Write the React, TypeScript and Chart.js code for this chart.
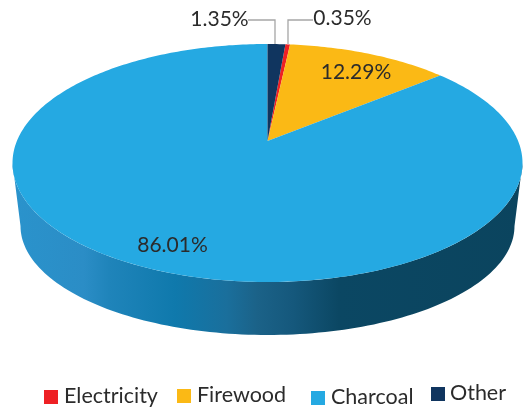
import React, { useEffect, useRef } from "react";
import { Chart, registerables } from "chart.js";

Chart.register(...registerables);

const categories = ["Electricity", "Firewood", "Charcoal", "Other"];
const shares = [0.35, 12.29, 86.01, 1.35];
const colors = ["#ee2024", "#fbb915", "#25a9e2", "#10355f"];

const FONT = "Lato, sans-serif";
const TEXT = "#2b2b2b";

const top = { cx: 267.5, cy: 163, rx: 255, ry: 119, apex: -0.185 };
const bottom = { cx: 267.5, cy: 226, rx: 247, ry: 109 };

const project = (a: number) => {
  const u = Math.cos(a);
  const v = Math.sin(a);
  const c = top.apex;
  const d = 1 + c * v;
  return {
    x: top.cx + (top.rx * u * Math.sqrt(1 - c * c)) / d,
    y: top.cy + (top.ry * (v + c)) / d,
  };
};

const pie3d = {
  id: "pie3d",
  beforeDatasetsDraw(chart: any) {
    const { ctx } = chart;
    ctx.save();
    // side wall
    const g = ctx.createLinearGradient(top.cx - top.rx, 0, top.cx + top.rx, 0);
    [
      [0, "#2a93cc"],
      [0.14, "#2b8dc6"],
      [0.19, "#1f84ba"],
      [0.32, "#0f79ac"],
      [0.42, "#1a6f9c"],
      [0.48, "#1b6288"],
      [0.55, "#15587c"],
      [0.64, "#0b4763"],
      [1, "#0b445e"],
    ].forEach(([o, c]) => g.addColorStop(o as number, c as string));
    ctx.beginPath();
    const N = 120;
    for (let i = 0; i <= N; i++) {
      const t = (Math.PI * i) / N;
      const x = top.cx + top.rx * Math.cos(t);
      const y = top.cy + top.ry * Math.sin(t);
      i ? ctx.lineTo(x, y) : ctx.moveTo(x, y);
    }
    for (let i = N; i >= 0; i--) {
      const t = (Math.PI * i) / N;
      ctx.lineTo(bottom.cx + bottom.rx * Math.cos(t), bottom.cy + bottom.ry * Math.sin(t));
    }
    ctx.closePath();
    ctx.fillStyle = g;
    ctx.fill();
    // top face, from the arcs laid out by the pie controller
    const meta = chart.getDatasetMeta(0);
    const apex = { x: top.cx, y: top.cy + top.ry * top.apex };
    meta.data.forEach((arc: any, i: number) => {
      const { startAngle, endAngle } = arc;
      ctx.beginPath();
      ctx.moveTo(apex.x, apex.y);
      const steps = Math.max(4, Math.ceil((endAngle - startAngle) * 60));
      for (let s = 0; s <= steps; s++) {
        const p = project(startAngle + ((endAngle - startAngle) * s) / steps);
        ctx.lineTo(p.x, p.y);
      }
      ctx.closePath();
      ctx.fillStyle = chart.data.datasets[0].backgroundColor[i];
      ctx.fill();
    });
    ctx.restore();
    return false;
  },
  afterDraw(chart: any) {
    const { ctx } = chart;
    const data = chart.data.datasets[0].data;
    const cols = chart.data.datasets[0].backgroundColor;
    ctx.save();
    // leader lines
    ctx.strokeStyle = "#a6a6a6";
    ctx.lineWidth = 1.3;
    ctx.beginPath();
    ctx.moveTo(248, 20);
    ctx.lineTo(275, 20);
    ctx.lineTo(275, 44);
    ctx.moveTo(313, 20);
    ctx.lineTo(288, 20);
    ctx.lineTo(288, 44);
    ctx.stroke();
    // value labels
    ctx.fillStyle = TEXT;
    ctx.font = `21px ${FONT}`;
    ctx.textBaseline = "alphabetic";
    ctx.textAlign = "center";
    const labelPos = [
      [342.5, 25],
      [356, 79],
      [172.5, 252],
      [219.5, 26],
    ];
    data.forEach((v: number, i: number) => {
      ctx.fillText(`${v.toFixed(2)}%`, labelPos[i][0], labelPos[i][1]);
    });
    // legend
    const legendPos = [
      [44, 390, 64, 403],
      [177, 389, 197, 402],
      [311, 391, 331, 404],
      [431, 387, 450, 400],
    ];
    ctx.textAlign = "left";
    ctx.font = `21.5px ${FONT}`;
    chart.data.labels.forEach((name: string, i: number) => {
      const [bx, by, tx, ty] = legendPos[i];
      ctx.fillStyle = cols[i];
      ctx.fillRect(bx, by, 14, 14);
      ctx.fillStyle = TEXT;
      ctx.fillText(name, tx, ty);
    });
    ctx.restore();
  },
};

export default function App() {
  const ref = useRef<HTMLCanvasElement>(null);
  useEffect(() => {
    const total = shares.reduce((a, b) => a + b, 0);
    const chart = new Chart(ref.current!, {
      type: "pie",
      data: {
        labels: categories,
        datasets: [{ data: shares, backgroundColor: colors, borderWidth: 0 }],
      },
      options: {
        animation: false,
        responsive: false,
        rotation: (shares[3] / total) * 360,
        plugins: { legend: { display: false }, tooltip: { enabled: false } },
      },
      plugins: [pie3d],
    } as any);
    return () => chart.destroy();
  }, []);
  return (
    <div style={{ position: "absolute", left: 0, top: 0, width: 527, height: 409, overflow: "hidden", background: "#fff" }}>
      <canvas ref={ref} width={527} height={409} style={{ display: "block" }} />
    </div>
  );
}
